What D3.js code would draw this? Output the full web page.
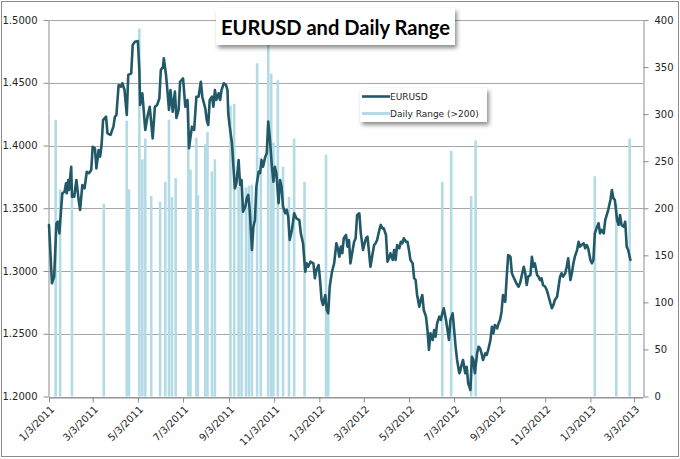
<!DOCTYPE html>
<html><head><meta charset="utf-8">
<script src="https://cdn.jsdelivr.net/npm/d3@7"></script>
<style>body{margin:0;background:#fff}svg{display:block}</style>
</head><body>
<svg id="c" width="680" height="459"></svg>
<script>
const chartTitle = "EURUSD and Daily Range";
const seriesNames = ["EURUSD", "Daily Range (>200)"];
const startDate = "2011-01-03";
const endDate = "2013-03-15";
// EURUSD: trading day offsets (days since startDate) and closes
const eurDays = [
0,4,7,10,12,14,16,18,21,23,
24,26,27,30,31,34,37,40,42,45,
48,51,54,57,59,62,64,67,69,71,
73,77,79,83,87,89,91,94,97,99,
102,105,107,111,113,116,120,122,123,126,
130,133,136,140,143,146,149,151,154,155,
158,160,162,164,167,170,172,175,177,181,
184,187,189,193,196,199,202,205,207,208,
211,213,215,217,220,222,224,226,229,231,
233,236,239,241,242,244,247,249,251,253,
256,258,260,262,265,267,269,271,274,276,
278,280,283,285,287,289,292,294,296,298,
301,303,305,307,310,312,314,316,319,321,
323,325,328,331,334,338,340,343,346,348,
350,353,357,359,361,364,366,368,370,373,
375,377,379,382,385,388,390,392,394,396,
398,401,403,405,407,410,412,414,416,419,
421,424,425,428,430,432,434,437,439,441,
443,446,448,450,452,455,457,459,461,464,
466,468,470,473,475,477,479,482,484,486,
488,491,493,495,497,500,502,504,506,509,
511,513,515,518,520,522,524,527,529,531,
533,536,538,540,542,545,547,549,551,554,
555,557,559,562,564,566,569,571,573,575,
578,580,582,584,586,589,591,593,596,598,
600,602,605,607,609,611,613,616,618,620,
623,625,627,629,631,634,636,638,641,643,
645,647,650,652,654,656,659,661,663,665,
667,670,672,674,677,679,681,683,686,688,
690,692,694,697,699,701,704,706,708,710,
713,715,717,719,722,724,726,728,731,733,
735,737,740,742,744,746,749,751,753,755,
758,760,762,764,767,769,771,773,776,778,
780,782,785];
const eurClose = [
1.3367,1.2902,1.2955,1.3380,1.3393,1.3300,1.3462,1.3619,1.3632,1.3699,
1.3619,1.3725,1.3645,1.3831,1.3592,1.3592,1.3725,1.3566,1.3486,1.3685,
1.3659,1.3791,1.3779,1.3805,1.3990,1.3978,1.3818,1.3964,1.3911,1.4004,
1.4203,1.4230,1.4097,1.4084,1.4150,1.4230,1.4243,1.4482,1.4469,1.4496,
1.4442,1.4243,1.4562,1.4575,1.4801,1.4827,1.4833,1.4602,1.4323,1.4416,
1.4124,1.4230,1.4309,1.4057,1.4309,1.4323,1.4376,1.4602,1.4628,1.4695,
1.4562,1.4429,1.4283,1.4442,1.4269,1.4429,1.4219,1.4283,1.4508,1.4535,
1.4309,1.4363,1.3978,1.4150,1.4124,1.4389,1.4389,1.4508,1.4389,1.4363,
1.4296,1.4203,1.4163,1.4363,1.4389,1.4309,1.4442,1.4363,1.4416,1.4363,
1.4442,1.4496,1.4482,1.4442,1.4257,1.4150,1.4020,1.3831,1.3659,1.3699,
1.3884,1.3685,1.3725,1.3473,1.3512,1.3579,1.3606,1.3486,1.3167,1.3353,
1.3406,1.3672,1.3791,1.3780,1.3884,1.3831,1.3911,1.3938,1.4190,1.4070,
1.3831,1.3712,1.3831,1.3779,1.3540,1.3725,1.3672,1.3512,1.3460,1.3486,
1.3433,1.3247,1.3327,1.3460,1.3420,1.3406,1.3300,1.3221,1.2994,1.3061,
1.3034,1.3074,1.3061,1.2942,1.3008,1.3048,1.2928,1.2769,1.2729,1.2809,
1.2689,1.2663,1.2875,1.2992,1.3061,1.3221,1.3181,1.3114,1.3194,1.3141,
1.3261,1.3287,1.3194,1.3247,1.3061,1.3167,1.3233,1.3261,1.3446,1.3460,
1.3300,1.3167,1.3194,1.3261,1.3273,1.3154,1.3034,1.3141,1.3207,1.3221,
1.3247,1.3327,1.3367,1.3340,1.3340,1.3287,1.3074,1.3101,1.3141,1.3088,
1.3167,1.3088,1.3207,1.3181,1.3233,1.3221,1.3261,1.3233,1.3233,1.3167,
1.3088,1.3061,1.2942,1.2928,1.2809,1.2716,1.2769,1.2809,1.2689,1.2636,
1.2530,1.2371,1.2504,1.2450,1.2530,1.2477,1.2583,1.2636,1.2610,1.2663,
1.2703,1.2610,1.2530,1.2450,1.2610,1.2663,1.2530,1.2397,1.2291,1.2185,
1.2198,1.2251,1.2291,1.2185,1.2237,1.2105,1.2052,1.2317,1.2291,1.2185,
1.2344,1.2397,1.2384,1.2344,1.2291,1.2344,1.2331,1.2371,1.2450,1.2556,
1.2504,1.2570,1.2543,1.2583,1.2610,1.2676,1.2809,1.2755,1.2955,1.3128,
1.3114,1.2982,1.2955,1.2928,1.2902,1.2875,1.2902,1.2955,1.3034,1.2982,
1.2888,1.2955,1.2968,1.3114,1.3034,1.3061,1.2968,1.2955,1.2928,1.2942,
1.2888,1.2875,1.2849,1.2809,1.2743,1.2703,1.2729,1.2769,1.2795,1.2875,
1.2955,1.2982,1.2955,1.2982,1.3034,1.3101,1.2928,1.2982,1.3061,1.3114,
1.3167,1.3233,1.3194,1.3207,1.3221,1.3181,1.3207,1.3181,1.3088,1.3061,
1.3088,1.3300,1.3353,1.3380,1.3300,1.3327,1.3300,1.3406,1.3446,1.3486,
1.3566,1.3645,1.3579,1.3566,1.3406,1.3367,1.3446,1.3367,1.3353,1.3393,
1.3194,1.3167,1.3088];
// Daily range (pips) on days where it exceeded 200
const rangeDays = [9,15,31,74,105,108,122,126,130,138,
150,157,162,166,171,188,191,199,201,211,
214,220,224,245,250,256,260,266,270,274,
281,286,296,300,303,309,316,324,331,345,
374,377,531,543,570,576,737,766,784];
const rangeValues = [294,220,212,205,293,220,391,252,274,213,
207,228,294,212,232,312,241,275,214,268,
281,239,252,309,311,223,224,222,224,225,
354,254,384,343,270,336,244,212,274,228,
257,88,228,261,213,272,234,205,274];
const xTickLabels = ["1/3/2011","3/3/2011","5/3/2011","7/3/2011","9/3/2011","11/3/2011",
  "1/3/2012","3/3/2012","5/3/2012","7/3/2012","9/3/2012","11/3/2012","1/3/2013","3/3/2013"];
const leftTicks = [1.2,1.25,1.3,1.35,1.4,1.45,1.5];
const rightTicks = [0,50,100,150,200,250,300,350,400];

const svg = d3.select("#c");
const L = 49, R = 643, T = 20, B = 396.5;
const parseISO = d3.timeParse("%Y-%m-%d");
const parseMDY = d3.timeParse("%m/%d/%Y");
const t0 = parseISO(startDate);
const x = d3.scaleTime().domain([t0, parseISO(endDate)]).range([L, R]);
const yL = d3.scaleLinear().domain([1.2, 1.5]).range([B, T]);
const yR = d3.scaleLinear().domain([0, 400]).range([B, T]);

const eur = eurDays.map((d, i) => ({date: d3.timeDay.offset(t0, d), v: eurClose[i]}));
const rng = rangeDays.map((d, i) => ({date: d3.timeDay.offset(t0, d), v: rangeValues[i]}));

const defs = svg.append("defs");
const f = defs.append("filter").attr("id", "sh").attr("x", "-10%").attr("y", "-20%").attr("width", "130%").attr("height", "160%");
f.append("feDropShadow").attr("dx", 2).attr("dy", 3).attr("stdDeviation", 2).attr("flood-color", "#000").attr("flood-opacity", 0.45);

// outer border
svg.append("rect").attr("x", 1.5).attr("y", 1.5).attr("width", 677).attr("height", 455)
  .attr("fill", "#fff").attr("stroke", "#8c8c8c");

// gridlines
svg.append("g").selectAll("line").data(leftTicks).join("line")
  .attr("x1", L).attr("x2", R).attr("y1", d => Math.round(yL(d)) + 0.5).attr("y2", d => Math.round(yL(d)) + 0.5)
  .attr("stroke", "#a6a6a6").attr("stroke-width", 1);

// bars
const bw = 2.6;
svg.append("g").selectAll("rect").data(rng).join("rect")
  .attr("x", d => x(d.date) - bw / 2).attr("width", bw)
  .attr("y", d => yR(d.v)).attr("height", d => yR(0) - yR(d.v))
  .attr("fill", "#b2dbe6");

// axes
const axStyle = g => {
  g.selectAll(".domain").attr("stroke", "#8c8c8c");
  g.selectAll(".tick line").attr("stroke", "#8c8c8c");
  g.selectAll("text").attr("fill", "#262626").style("font-family", "'DejaVu Sans', Verdana, sans-serif").style("font-size", "10px");
};
svg.append("g").attr("transform", `translate(${L - 0.5},0)`)
  .call(d3.axisLeft(yL).tickValues(leftTicks).tickFormat(d3.format(".4f")).tickSize(5).tickSizeOuter(0).tickPadding(6))
  .call(axStyle);
svg.append("g").attr("transform", `translate(${R + 0.5},0)`)
  .call(d3.axisRight(yR).tickValues(rightTicks).tickSize(5).tickSizeOuter(0).tickPadding(6))
  .call(axStyle);
const xg = svg.append("g").attr("transform", `translate(0,${Math.round(B) + 0.5})`)
  .call(d3.axisBottom(x).tickValues(xTickLabels.map(parseMDY)).tickFormat((d, i) => xTickLabels[i]).tickSize(5).tickSizeOuter(0))
  .call(axStyle);
xg.selectAll(".tick text").attr("x", 0).attr("y", 0).attr("dy", "0.35em")
  .attr("text-anchor", "end").attr("transform", "translate(3,10) rotate(-45)");

// EURUSD line
svg.append("path").datum(eur)
  .attr("d", d3.line().x(d => x(d.date)).y(d => yL(d.v)))
  .attr("fill", "none").attr("stroke", "#215968").attr("stroke-width", 2.6)
  .attr("stroke-linejoin", "round").attr("stroke-linecap", "round");

// title box
svg.append("rect").attr("x", 216).attr("y", 8).attr("width", 239).attr("height", 37)
  .attr("fill", "#fff").attr("filter", "url(#sh)");
svg.append("text").attr("x", 335.5).attr("y", 35).attr("text-anchor", "middle")
  .style("font-family", "Lato, 'Open Sans', sans-serif").style("font-weight", "bold").style("font-size", "21px")
  .attr("textLength", 229).attr("lengthAdjust", "spacingAndGlyphs")
  .attr("fill", "#000").text(chartTitle);

// legend
const lg = svg.append("g");
lg.append("rect").attr("x", 360).attr("y", 88).attr("width", 127).attr("height", 34)
  .attr("fill", "#fff").attr("filter", "url(#sh)");
const legendColors = ["#215968", "#b2dbe6"];
const legendWidths = [2.6, 3];
seriesNames.forEach((n, i) => {
  const yy = 96.5 + i * 17;
  lg.append("line").attr("x1", 362).attr("x2", 390).attr("y1", yy).attr("y2", yy)
    .attr("stroke", legendColors[i]).attr("stroke-width", legendWidths[i]);
  lg.append("text").attr("x", 390).attr("y", yy).attr("dy", "0.35em")
    .style("font-family", "'DejaVu Sans', Verdana, sans-serif").style("font-size", "9px")
    .attr("fill", "#262626").text(n);
});
</script>
</body></html>
